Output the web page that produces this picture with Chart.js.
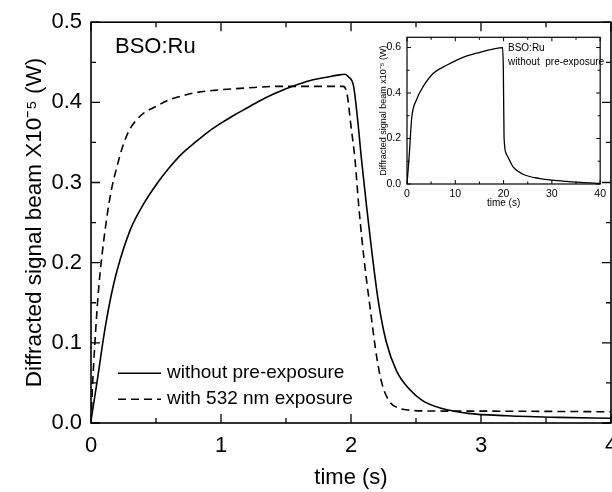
<!DOCTYPE html>
<html>
<head>
<meta charset="utf-8">
<title>BSO:Ru diffracted signal</title>
<script src="https://cdn.jsdelivr.net/npm/chart.js@4.4.0/dist/chart.umd.min.js"></script>
<style>
  html, body { margin: 0; padding: 0; background: #fff; overflow: hidden; }
  #wrap { position: relative; width: 612px; height: 492px; overflow: hidden; }
  #mainChart { position: absolute; left: 0; top: 0; }
  #insetChart { position: absolute; left: 360px; top: 25px; }
</style>
</head>
<body>
<div id="wrap">
  <canvas id="mainChart" width="630" height="492"></canvas>
  <canvas id="insetChart" width="250" height="190"></canvas>
</div>
<script>
// main panel, signal in units of 1e-5 W
const timeNoPre = [0, 0.05, 0.1, 0.15, 0.2, 0.3, 0.4, 0.5, 0.6, 0.7, 0.8, 0.9, 1.0, 1.1, 1.2, 1.3, 1.4, 1.5, 1.6, 1.7, 1.8, 1.9, 1.95, 1.98, 2.02, 2.05, 2.08, 2.12, 2.16, 2.21, 2.27, 2.35, 2.45, 2.55, 2.7, 2.9, 3.2, 3.6, 4.0];
const signalNoPre = [0.003, 0.055, 0.11, 0.155, 0.19, 0.24, 0.272, 0.297, 0.318, 0.336, 0.35, 0.363, 0.374, 0.384, 0.393, 0.402, 0.41, 0.417, 0.423, 0.428, 0.431, 0.434, 0.435, 0.432, 0.42, 0.38, 0.33, 0.27, 0.214, 0.152, 0.102, 0.065, 0.042, 0.028, 0.018, 0.012, 0.009, 0.007, 0.006];

const timePre = [0, 0.01, 0.03, 0.06, 0.1, 0.15, 0.2, 0.25, 0.3, 0.35, 0.4, 0.5, 0.6, 0.7, 0.8, 0.95, 1.2, 1.45, 1.7, 1.94, 1.97, 2.0, 2.03, 2.06, 2.1, 2.15, 2.2, 2.24, 2.3, 2.38, 2.45, 2.6, 3.0, 3.5, 4.0];
const signalPre = [0.0, 0.04, 0.1, 0.17, 0.23, 0.285, 0.32, 0.348, 0.367, 0.378, 0.386, 0.395, 0.403, 0.408, 0.412, 0.415, 0.418, 0.42, 0.42, 0.42, 0.41, 0.37, 0.33, 0.27, 0.205, 0.14, 0.08, 0.048, 0.026, 0.018, 0.016, 0.015, 0.0148, 0.0145, 0.014];

const mainLabels = ['without pre-exposure', 'with 532 nm exposure'];
const mainXTicks = [0, 1, 2, 3, 4];
const mainYTicks = [0, 0.1, 0.2, 0.3, 0.4, 0.5];

// inset, longer record without pre-exposure
const insetTime = [0, 0.48, 0.96, 2.0, 3.4, 5.4, 8.2, 11.6, 15.1, 17.8, 19.8, 19.95, 20.1, 20.6, 22, 24, 27.5, 32.3, 36, 40];
const insetSignal = [0, 0.131, 0.287, 0.372, 0.43, 0.486, 0.522, 0.557, 0.579, 0.593, 0.6, 0.5, 0.202, 0.131, 0.074, 0.043, 0.024, 0.013, 0.007, 0.003];
const insetXTicks = [0, 10, 20, 30, 40];
const insetYTicks = [0, 0.2, 0.4, 0.6];

const FONT = "'Liberation Sans', Arial, sans-serif";

function pts(xs, ys) {
  return xs.map((x, i) => ({ x: x, y: ys[i] }));
}

// box around the plot with inward ticks on all four sides
const frameTicks = {
  id: 'frameTicks',
  afterDatasetsDraw(chart, args, o) {
    const { ctx, chartArea: a, scales: { x, y } } = chart;
    ctx.save();
    ctx.strokeStyle = '#000';
    ctx.lineWidth = o.tickWidth;
    ctx.beginPath();
    const n = Math.round((x.max - x.min) / o.xMinor);
    for (let i = 0; i <= n; i++) {
      const v = x.min + i * o.xMinor;
      const len = (i % o.xEvery === 0) ? o.major : o.minor;
      const px = x.getPixelForValue(v);
      ctx.moveTo(px, a.bottom); ctx.lineTo(px, a.bottom - len);
      ctx.moveTo(px, a.top); ctx.lineTo(px, a.top + len);
    }
    const m = Math.floor((y.max - y.min) / o.yMinor + 1e-6);
    for (let i = 0; i <= m; i++) {
      const v = y.min + i * o.yMinor;
      const len = (i % o.yEvery === 0) ? o.major : o.minor;
      const py = y.getPixelForValue(v);
      ctx.moveTo(a.left, py); ctx.lineTo(a.left + len, py);
      ctx.moveTo(a.right, py); ctx.lineTo(a.right - len, py);
    }
    ctx.stroke();
    ctx.lineWidth = o.frameWidth;
    ctx.strokeRect(a.left, a.top, a.right - a.left, a.bottom - a.top);
    ctx.restore();
  }
};

// in-plot texts and the little legend
const notes = {
  id: 'notes',
  afterDraw(chart, args, o) {
    const { ctx, chartArea: a } = chart;
    ctx.save();
    ctx.fillStyle = '#000';
    ctx.textBaseline = 'middle';
    ctx.textAlign = 'left';
    (o.texts || []).forEach(t => {
      ctx.font = t.size + 'px ' + FONT;
      ctx.fillText(t.text, a.left + t.dx, a.top + t.dy);
    });
    if (o.legend) {
      const L = o.legend;
      ctx.font = L.size + 'px ' + FONT;
      chart.data.datasets.forEach((ds, i) => {
        const yy = a.top + L.dy + i * L.gap;
        ctx.save();
        ctx.lineWidth = ds.borderWidth;
        ctx.setLineDash(ds.borderDash || []);
        ctx.beginPath();
        ctx.moveTo(a.left + L.dx, yy);
        ctx.lineTo(a.left + L.dx + L.len, yy);
        ctx.stroke();
        ctx.restore();
        ctx.fillText(ds.label, a.left + L.dx + L.len + 6, yy);
      });
    }
    ctx.restore();
  }
};

Chart.register(frameTicks, notes);

new Chart(document.getElementById('mainChart'), {
  type: 'line',
  data: {
    datasets: [
      {
        label: mainLabels[0],
        data: pts(timeNoPre, signalNoPre),
        borderColor: '#000',
        borderWidth: 1.6,
        pointRadius: 0,
        cubicInterpolationMode: 'monotone'
      },
      {
        label: mainLabels[1],
        data: pts(timePre, signalPre),
        borderColor: '#000',
        borderWidth: 1.6,
        borderDash: [8, 5],
        pointRadius: 0,
        cubicInterpolationMode: 'monotone'
      }
    ]
  },
  options: {
    responsive: false,
    animation: false,
    devicePixelRatio: 1,
    layout: { padding: { top: 18, right: 19, left: 0, bottom: 0 } },
    plugins: {
      legend: { display: false },
      tooltip: { enabled: false },
      frameTicks: { tickWidth: 1.3, frameWidth: 1.6, major: 9, minor: 5, xMinor: 0.5, xEvery: 2, yMinor: 0.05, yEvery: 2 },
      notes: {
        texts: [{ text: 'BSO:Ru', size: 22, dx: 24, dy: 25 }],
        legend: { size: 19, dx: 27, dy: 351, gap: 26, len: 43 }
      }
    },
    scales: {
      x: {
        type: 'linear',
        min: 0,
        max: 4,
        afterBuildTicks: s => { s.ticks = mainXTicks.map(v => ({ value: v })); },
        afterFit: s => { s.height = 69; },
        grid: { display: false, drawTicks: false },
        border: { display: false },
        ticks: { color: '#000', font: { family: FONT, size: 22 }, padding: 10, maxRotation: 0 },
        title: { display: true, text: 'time (s)', color: '#000', font: { family: FONT, size: 22 }, padding: { top: 0, bottom: 1 } }
      },
      y: {
        min: 0,
        max: 0.5,
        afterBuildTicks: s => { s.ticks = mainYTicks.map(v => ({ value: v })); },
        afterFit: s => { s.width = 91; },
        grid: { display: false, drawTicks: false },
        border: { display: false },
        ticks: { color: '#000', font: { family: FONT, size: 22 }, padding: 9, callback: v => v.toFixed(1) },
        title: { display: true, text: 'Diffracted signal beam X10⁻⁵ (W)', color: '#000', font: { family: FONT, size: 22.5 }, padding: { top: 21, bottom: 0 } }
      }
    }
  }
});

new Chart(document.getElementById('insetChart'), {
  type: 'line',
  data: {
    datasets: [{
      label: 'without pre-exposure',
      data: pts(insetTime, insetSignal),
      borderColor: '#000',
      borderWidth: 1.3,
      pointRadius: 0,
      cubicInterpolationMode: 'monotone'
    }]
  },
  options: {
    responsive: false,
    animation: false,
    devicePixelRatio: 1,
    layout: { padding: { top: 8, right: 9, left: 0, bottom: 0 } },
    plugins: {
      legend: { display: false },
      tooltip: { enabled: false },
      frameTicks: { tickWidth: 1, frameWidth: 1.2, major: 4, minor: 2.5, xMinor: 5, xEvery: 2, yMinor: 0.1, yEvery: 2 },
      notes: {
        texts: [
          { text: 'BSO:Ru', size: 10, dx: 101, dy: 11 },
          { text: 'without  pre-exposure', size: 10, dx: 101, dy: 25 }
        ]
      }
    },
    scales: {
      x: {
        type: 'linear',
        min: 0,
        max: 40,
        afterBuildTicks: s => { s.ticks = insetXTicks.map(v => ({ value: v })); },
        afterFit: s => { s.height = 31; },
        grid: { display: false, drawTicks: false },
        border: { display: false },
        ticks: { color: '#000', font: { family: FONT, size: 10.5 }, padding: 4, maxRotation: 0 },
        title: { display: true, text: 'time (s)', color: '#000', font: { family: FONT, size: 10 }, padding: { top: 0, bottom: 6 } }
      },
      y: {
        min: 0,
        max: 0.645,
        afterBuildTicks: s => { s.ticks = insetYTicks.map(v => ({ value: v })); },
        afterFit: s => { s.width = 47; },
        grid: { display: false, drawTicks: false },
        border: { display: false },
        ticks: { color: '#000', font: { family: FONT, size: 10.5 }, padding: 6, callback: v => v.toFixed(1) },
        title: { display: true, text: 'Diffracted signal beam x10⁻⁵ (W)', color: '#000', font: { family: FONT, size: 9 }, padding: { top: 18, bottom: 0 } }
      }
    }
  }
});
</script>
</body>
</html>
